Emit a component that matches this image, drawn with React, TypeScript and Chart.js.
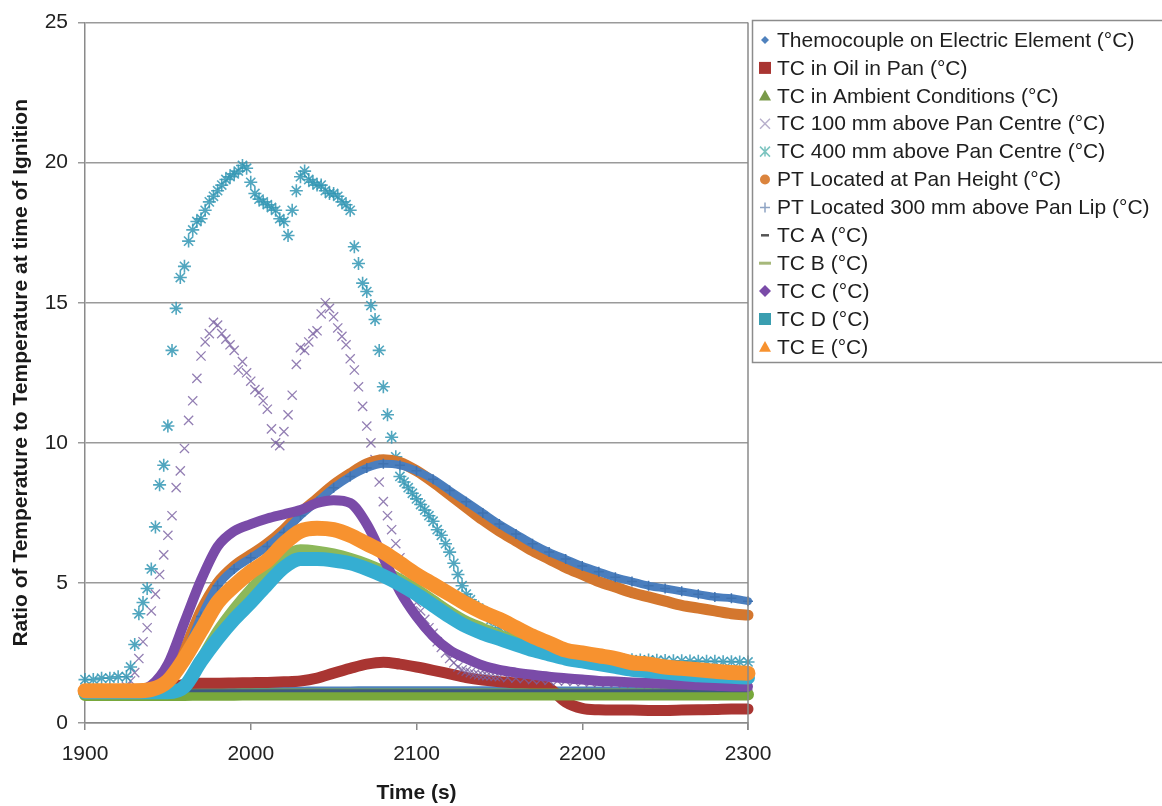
import React, { useEffect, useRef } from 'react';
import { Chart, registerables } from 'chart.js';

Chart.register(...registerables);

const FONT = "'Liberation Sans', Arial, sans-serif";

// sample times (s)
const T10 = [1900, 1910, 1920, 1930, 1940, 1950, 1960, 1970, 1980, 1990, 2000, 2010, 2020, 2030, 2040, 2050, 2060, 2070, 2080, 2090, 2100, 2110, 2120, 2130, 2140, 2150, 2160, 2170, 2180, 2190, 2200, 2210, 2220, 2230, 2240, 2250, 2260, 2270, 2280, 2290, 2300];
const T5 = [1900, 1905, 1910, 1915, 1920, 1925, 1930, 1935, 1940, 1945, 1950, 1955, 1960, 1965, 1970, 1975, 1980, 1985, 1990, 1995, 2000, 2005, 2010, 2015, 2020, 2025, 2030, 2035, 2040, 2045, 2050, 2055, 2060, 2065, 2070, 2075, 2080, 2085, 2090, 2095, 2100, 2105, 2110, 2115, 2120, 2125, 2130, 2135, 2140, 2145, 2150, 2155, 2160, 2165, 2170, 2175, 2180, 2185, 2190, 2195, 2200, 2205, 2210, 2215, 2220, 2225, 2230, 2235, 2240, 2245, 2250, 2255, 2260, 2265, 2270, 2275, 2280, 2285, 2290, 2295, 2300];
const T5h = [1927.5, 1932.5, 1937.5, 1942.5, 1947.5, 1952.5, 1957.5, 1962.5, 1967.5, 1972.5, 1977.5, 1982.5, 1987.5, 1992.5, 1997.5, 2002.5, 2007.5, 2012.5, 2017.5, 2022.5, 2027.5, 2032.5, 2037.5, 2042.5, 2047.5, 2052.5, 2057.5, 2062.5, 2067.5, 2072.5, 2077.5, 2082.5, 2087.5, 2092.5, 2097.5, 2102.5, 2107.5, 2112.5, 2117.5, 2122.5, 2127.5, 2132.5, 2137.5, 2142.5, 2147.5];

// series values (ratio)
const elementTC = [1.1, 1.1, 1.1, 1.1, 1.12, 1.15, 1.2, 1.22, 1.22, 1.22, 1.23, 1.23, 1.24, 1.24, 1.25, 1.25, 1.25, 1.26, 1.26, 1.26, 1.26, 1.26, 1.26, 1.26, 1.26, 1.26, 1.26, 1.25, 1.25, 1.25, 1.25, 1.25, 1.25, 1.25, 1.25, 1.24, 1.24, 1.24, 1.24, 1.24, 1.24];
const oilTC = [1.1, 1.1, 1.1, 1.1, 1.15, 1.25, 1.38, 1.42, 1.42, 1.43, 1.44, 1.45, 1.47, 1.5, 1.6, 1.78, 1.95, 2.1, 2.17, 2.1, 2.0, 1.88, 1.75, 1.62, 1.53, 1.47, 1.43, 1.4, 1.25, 0.75, 0.52, 0.47, 0.46, 0.46, 0.45, 0.45, 0.46, 0.47, 0.48, 0.5, 0.5];
const ambientTC = [1.0, 1.0, 1.0, 1.0, 1.0, 1.0, 1.0, 1.01, 1.01, 1.01, 1.02, 1.02, 1.02, 1.02, 1.02, 1.02, 1.02, 1.02, 1.02, 1.02, 1.02, 1.02, 1.02, 1.02, 1.02, 1.02, 1.02, 1.02, 1.02, 1.02, 1.02, 1.02, 1.02, 1.02, 1.02, 1.02, 1.02, 1.02, 1.02, 1.02, 1.02];
const tc100 = [1.2, 1.2, 1.2, 1.2, 1.2, 1.3, 1.8, 2.9, 4.0, 5.3,
  6.7, 8.4, 9.8, 11.5, 13.1, 13.9, 14.2, 13.7, 13.3, 12.9,
  12.2, 11.8, 11.2, 10.0, 10.4, 11.7, 13.4, 13.6, 14.0, 15.0,
  14.5, 13.8, 13.0, 12.0, 10.6, 9.4, 7.9, 6.9, 5.9, 5.0,
  4.3, 3.7, 3.2, 2.7, 2.3, 2.0, 1.85, 1.75, 1.7, 1.68,
  1.65, 1.62, 1.6, 1.58, 1.55, 1.55, 1.52, 1.5, 1.5, 1.48,
  1.47, 1.45, 1.45, 1.44, 1.43, 1.42, 1.42, 1.41, 1.4, 1.4,
  1.39, 1.38, 1.38, 1.37, 1.36, 1.36, 1.35, 1.35, 1.34, 1.34,
  1.33];
const tc100h = [1.5, 2.3, 3.4, 4.6, 6.0, 7.4, 9.0, 10.8, 12.3, 13.6,
  14.3, 13.9, 13.5, 12.6, 12.5, 11.9, 11.5, 10.5, 9.9, 11.0,
  12.8, 13.3, 13.9, 14.6, 14.8, 14.1, 13.5, 12.6, 11.3, 10.0,
  8.6, 7.4, 6.4, 5.4, 4.6, 4.0, 3.4, 2.9, 2.5, 2.15,
  1.9, 1.8, 1.72, 1.69, 1.66];
const tc400 = [1.55, 1.55, 1.6, 1.6, 1.65, 1.65, 2.8, 4.3, 5.5, 8.5,
  10.6, 14.8, 16.3, 17.6, 18.0, 18.6, 19.0, 19.4, 19.6, 19.9,
  19.3, 18.7, 18.5, 18.3, 17.9, 18.3, 19.5, 19.4, 19.2, 19.0,
  18.9, 18.6, 18.3, 16.4, 15.4, 14.4, 12.0, 10.2, 8.8, 8.4,
  8.0, 7.6, 7.2, 6.7, 6.1, 5.3, 4.6, 4.2, 4.0, 3.7,
  3.4, 3.2, 3.0, 2.85, 2.7, 2.6, 2.5, 2.45, 2.4, 2.38,
  2.35, 2.33, 2.3, 2.3, 2.28, 2.27, 2.26, 2.25, 2.25, 2.24,
  2.23, 2.22, 2.22, 2.21, 2.2, 2.2, 2.2, 2.19, 2.19, 2.18,
  2.18];
const tc400h = [2.0, 3.9, 4.8, 7.0, 9.2, 13.3, 15.9, 17.2, 17.9, 18.3,
  18.8, 19.2, 19.5, 19.7, 19.8, 18.9, 18.6, 18.4, 18.0, 17.4,
  19.0, 19.7, 19.3, 19.2, 18.9, 18.8, 18.5, 17.0, 15.7, 14.9,
  13.3, 11.0, 9.5, 8.6, 8.2, 7.8, 7.4, 6.9, 6.4, 5.7,
  4.9, 4.4, 4.1, 3.85, 3.55];
const ptPan = [1.15, 1.15, 1.15, 1.15, 1.2, 1.5, 2.6, 4.0, 5.0, 5.6, 6.0, 6.4, 6.9, 7.5, 8.0, 8.5, 8.9, 9.25, 9.4, 9.3, 9.0, 8.6, 8.15, 7.7, 7.25, 6.85, 6.5, 6.15, 5.85, 5.55, 5.3, 5.05, 4.85, 4.65, 4.5, 4.35, 4.2, 4.1, 4.0, 3.9, 3.85];
const pt300 = [1.15, 1.15, 1.15, 1.15, 1.2, 1.4, 2.4, 3.8, 4.9, 5.5, 5.9, 6.3, 6.8, 7.4, 7.9, 8.4, 8.8, 9.1, 9.25, 9.2, 9.0, 8.7, 8.3, 7.9, 7.5, 7.1, 6.75, 6.4, 6.1, 5.85, 5.6, 5.4, 5.2, 5.05, 4.9, 4.8, 4.7, 4.6, 4.5, 4.45, 4.35];
const tcA = [1.15, 1.15, 1.15, 1.15, 1.15, 1.15, 1.15, 1.15, 1.15, 1.15, 1.15, 1.15, 1.15, 1.15, 1.15, 1.15, 1.15, 1.15, 1.15, 1.15, 1.15, 1.15, 1.15, 1.15, 1.15, 1.15, 1.15, 1.15, 1.15, 1.15, 1.15, 1.15, 1.15, 1.15, 1.15, 1.15, 1.15, 1.15, 1.15, 1.15, 1.15];
const tcB = [1.05, 1.05, 1.05, 1.05, 1.05, 1.05, 1.3, 2.3, 3.3, 4.1, 4.8, 5.4, 5.95, 6.2, 6.15, 6.05, 5.9, 5.7, 5.45, 5.15, 4.8, 4.4, 4.0, 3.65, 3.4, 3.15, 2.95, 2.75, 2.6, 2.45, 2.3, 2.2, 2.1, 2.0, 1.95, 1.9, 1.85, 1.8, 1.78, 1.75, 1.72];
const tcC = [1.2, 1.2, 1.2, 1.2, 1.35, 2.1, 3.6, 5.1, 6.3, 6.85, 7.1, 7.3, 7.45, 7.6, 7.85, 7.95, 7.85, 7.1, 5.9, 4.7, 3.8, 3.1, 2.6, 2.3, 2.05, 1.9, 1.8, 1.72, 1.65, 1.6, 1.55, 1.5, 1.48, 1.45, 1.43, 1.4, 1.38, 1.35, 1.33, 1.3, 1.3];
const tcD = [1.1, 1.1, 1.1, 1.1, 1.1, 1.1, 1.3, 2.2, 3.0, 3.7, 4.3, 4.95, 5.55, 5.85, 5.85, 5.8, 5.7, 5.5, 5.25, 4.95, 4.6, 4.2, 3.8, 3.45, 3.2, 3.0, 2.8, 2.6, 2.45, 2.3, 2.2, 2.1, 2.0, 1.9, 1.85, 1.8, 1.75, 1.7, 1.68, 1.65, 1.62];
const tcE = [1.15, 1.15, 1.15, 1.15, 1.2, 1.5, 2.3, 3.3, 4.3, 4.9, 5.4, 5.8, 6.4, 6.85, 6.95, 6.9, 6.7, 6.4, 6.1, 5.7, 5.3, 4.95, 4.6, 4.25, 3.95, 3.7, 3.4, 3.1, 2.85, 2.6, 2.5, 2.4, 2.3, 2.15, 2.1, 2.0, 1.95, 1.9, 1.85, 1.8, 1.78];

const seriesNames = [
  'Themocouple on Electric Element (°C)',
  'TC in Oil in Pan (°C)',
  'TC in Ambient Conditions (°C)',
  'TC 100 mm above Pan Centre (°C)',
  'TC 400 mm above Pan Centre (°C)',
  'PT Located at Pan Height (°C)',
  'PT Located 300 mm above Pan Lip (°C)',
  'TC A (°C)',
  'TC B (°C)',
  'TC C (°C)',
  'TC D (°C)',
  'TC E (°C)',
];
const xTicks = [1900, 2000, 2100, 2200, 2300];
const yTicks = [0, 5, 10, 15, 20, 25];
const xTitle = 'Time (s)';
const yTitle = 'Ratio of Temperature to Temperature at time of Ignition';

type Spec = {
  xs: number[]; ys: number[]; xs2?: number[]; ys2?: number[]; color: string; width: number; marker: string;
  scatter?: boolean; radius?: number; mLine?: number; legendColor?: string; legendR?: number;
};

const specs: Spec[] = [
  { xs: T10, ys: elementTC, color: '#4F81BD', width: 3, marker: 'diamond', legendR: 4 },
  { xs: T10, ys: oilTC, color: '#A93532', width: 11, marker: 'square', legendR: 6 },
  { xs: T10, ys: ambientTC, color: '#78A83B', width: 12, marker: 'triangle', legendR: 6, legendColor: '#7A9A4A' },
  { xs: T5, ys: tc100, xs2: T5h, ys2: tc100h, color: 'rgba(120,95,160,0.8)', width: 0, marker: 'x', scatter: true, radius: 6.5, mLine: 1.3, legendColor: '#b8b0cc', legendR: 5 },
  { xs: T5, ys: tc400, xs2: T5h, ys2: tc400h, color: 'rgba(50,150,180,0.85)', width: 0, marker: 'star', scatter: true, radius: 6.5, mLine: 1.6, legendColor: '#7cc4c0', legendR: 5 },
  { xs: T10, ys: ptPan, color: '#D4772E', width: 11, marker: 'circle', legendR: 5, legendColor: '#DB843D' },
  { xs: T10, ys: pt300, color: '#4A7EBE', width: 8, marker: 'plus', legendR: 5, legendColor: '#8EA4C4' },
  { xs: T10, ys: tcA, color: '#3D5A80', width: 3, marker: 'dash', legendR: 4, legendColor: '#555' },
  { xs: T10, ys: tcB, color: '#8DB85A', width: 10, marker: 'longdash', legendR: 5, legendColor: '#A6B87A' },
  { xs: T10, ys: tcC, color: '#7A4BA8', width: 10, marker: 'diamond', legendR: 6 },
  { xs: T10, ys: tcD, color: '#35AED2', width: 14, marker: 'square', legendR: 6, legendColor: '#3A9EB0' },
  { xs: T10, ys: tcE, color: '#F7922F', width: 15, marker: 'triangle', legendR: 6 },
];

function drawMarker(ctx: CanvasRenderingContext2D, kind: string, x: number, y: number, r: number, color: string) {
  ctx.save();
  ctx.fillStyle = color;
  ctx.strokeStyle = color;
  ctx.lineWidth = 1.5;
  ctx.beginPath();
  switch (kind) {
    case 'diamond':
      ctx.moveTo(x, y - r); ctx.lineTo(x + r, y); ctx.lineTo(x, y + r); ctx.lineTo(x - r, y); ctx.closePath(); ctx.fill();
      break;
    case 'square':
      ctx.rect(x - r, y - r, 2 * r, 2 * r); ctx.fill();
      break;
    case 'triangle':
      ctx.moveTo(x, y - r); ctx.lineTo(x + r, y + r * 0.8); ctx.lineTo(x - r, y + r * 0.8); ctx.closePath(); ctx.fill();
      break;
    case 'circle':
      ctx.arc(x, y, r, 0, Math.PI * 2); ctx.fill();
      break;
    case 'x':
      ctx.moveTo(x - r, y - r); ctx.lineTo(x + r, y + r); ctx.moveTo(x + r, y - r); ctx.lineTo(x - r, y + r); ctx.stroke();
      break;
    case 'star':
      ctx.moveTo(x - r, y - r); ctx.lineTo(x + r, y + r); ctx.moveTo(x + r, y - r); ctx.lineTo(x - r, y + r);
      ctx.moveTo(x, y - r); ctx.lineTo(x, y + r); ctx.stroke();
      break;
    case 'plus':
      ctx.moveTo(x - r, y); ctx.lineTo(x + r, y); ctx.moveTo(x, y - r); ctx.lineTo(x, y + r); ctx.stroke();
      break;
    case 'dash':
      ctx.lineWidth = 2.5; ctx.moveTo(x - r, y); ctx.lineTo(x + r, y); ctx.stroke();
      break;
    case 'longdash':
      ctx.lineWidth = 3; ctx.moveTo(x - r - 1, y); ctx.lineTo(x + r + 1, y); ctx.stroke();
      break;
  }
  ctx.restore();
}

const frame = {
  id: 'frameAndLegend',
  afterDraw(chart: any) {
    const ctx: CanvasRenderingContext2D = chart.ctx;
    const a = chart.chartArea;
    ctx.save();
    ctx.strokeStyle = '#8a8a8a';
    ctx.lineWidth = 1.5;
    ctx.beginPath();
    ctx.moveTo(a.right, a.top);
    ctx.lineTo(a.right, a.bottom + 7);
    ctx.stroke();
    ctx.strokeStyle = '#8c8c8c';
    ctx.lineWidth = 1.5;
    ctx.strokeRect(752.5, 20.5, 430, 342);
    ctx.font = `21px ${FONT}`;
    ctx.fillStyle = '#1e1e1e';
    ctx.textBaseline = 'middle';
    ctx.textAlign = 'left';
    specs.forEach((s, i) => {
      const y = 40 + i * 27.9;
      drawMarker(ctx, s.marker, 765, y, s.legendR || 5, s.legendColor || s.color);
      ctx.fillText(seriesNames[i], 777, y + 1);
    });
    ctx.restore();
  },
};

export default function App() {
  const ref = useRef<HTMLCanvasElement | null>(null);
  useEffect(() => {
    document.body.style.margin = '0';
    const canvas = ref.current;
    if (!canvas) return;
    const datasets = specs.map((s, i) => {
      const data = s.ys.map((v, k) => ({ x: s.xs[k], y: v }));
      if (s.xs2 && s.ys2) {
        s.ys2.forEach((v, k) => data.push({ x: s.xs2![k], y: v }));
      }
      if (s.scatter) {
        return {
          label: seriesNames[i], data, showLine: false,
          pointStyle: s.marker === 'x' ? 'crossRot' : 'star',
          pointRadius: s.radius, pointBorderWidth: s.mLine,
          pointBorderColor: s.color, pointBackgroundColor: s.color,
          borderColor: s.color, backgroundColor: s.color,
          order: -i, clip: 10,
        };
      }
      return {
        label: seriesNames[i], data, showLine: true,
        borderColor: s.color, backgroundColor: s.color, borderWidth: s.width,
        borderCapStyle: 'round', borderJoinStyle: 'round',
        cubicInterpolationMode: 'monotone',
        pointRadius: s.marker === 'plus' ? 5 : 0,
        pointStyle: 'cross', pointBorderWidth: 1.5, pointBorderColor: '#3F72B0',
        order: -i, clip: 10,
      };
    });
    const tickFont = { family: FONT, size: 21 };
    const chart = new Chart(canvas, {
      type: 'scatter',
      data: { datasets: datasets as any },
      plugins: [frame],
      options: {
        animation: false,
        responsive: true,
        maintainAspectRatio: false,
        layout: { padding: { top: 22, right: 414, left: 0, bottom: 0 } },
        plugins: { legend: { display: false }, tooltip: { enabled: false } },
        scales: {
          x: {
            type: 'linear', min: 1900, max: 2300,
            afterBuildTicks: (s: any) => { s.ticks = xTicks.map((v) => ({ value: v })); },
            afterFit: (s: any) => { s.height = 83; },
            grid: { display: true, drawOnChartArea: false, drawTicks: true, tickLength: 7, color: '#8a8a8a', lineWidth: 1.5 },
            border: { display: true, color: '#8a8a8a', width: 1.5 },
            ticks: { font: tickFont, color: '#222', padding: 12, maxRotation: 0, autoSkip: false, callback: (v: any) => String(v) },
            title: { display: true, text: xTitle, font: { family: FONT, size: 21, weight: 'bold' }, color: '#1a1a1a', padding: { top: 0, bottom: 0 } },
          },
          y: {
            type: 'linear', min: 0, max: 25,
            afterBuildTicks: (s: any) => { s.ticks = yTicks.map((v) => ({ value: v })); },
            afterFit: (s: any) => { s.width = 85; },
            grid: { display: true, drawTicks: true, tickLength: 7, color: '#9a9a9a', lineWidth: 1.5 },
            border: { display: true, color: '#8a8a8a', width: 1.5 },
            ticks: { font: tickFont, color: '#222', padding: 10, callback: (v: any) => String(v) },
            title: { display: true, text: yTitle, font: { family: FONT, size: 21, weight: 'bold' }, color: '#1a1a1a', padding: { top: 9, bottom: 0 } },
          },
        },
      } as any,
    });
    return () => chart.destroy();
  }, []);
  return (
    <div style={{ position: 'fixed', left: 0, top: 0, width: 1162, height: 806, background: '#fff' }}>
      <canvas ref={ref} />
    </div>
  );
}
